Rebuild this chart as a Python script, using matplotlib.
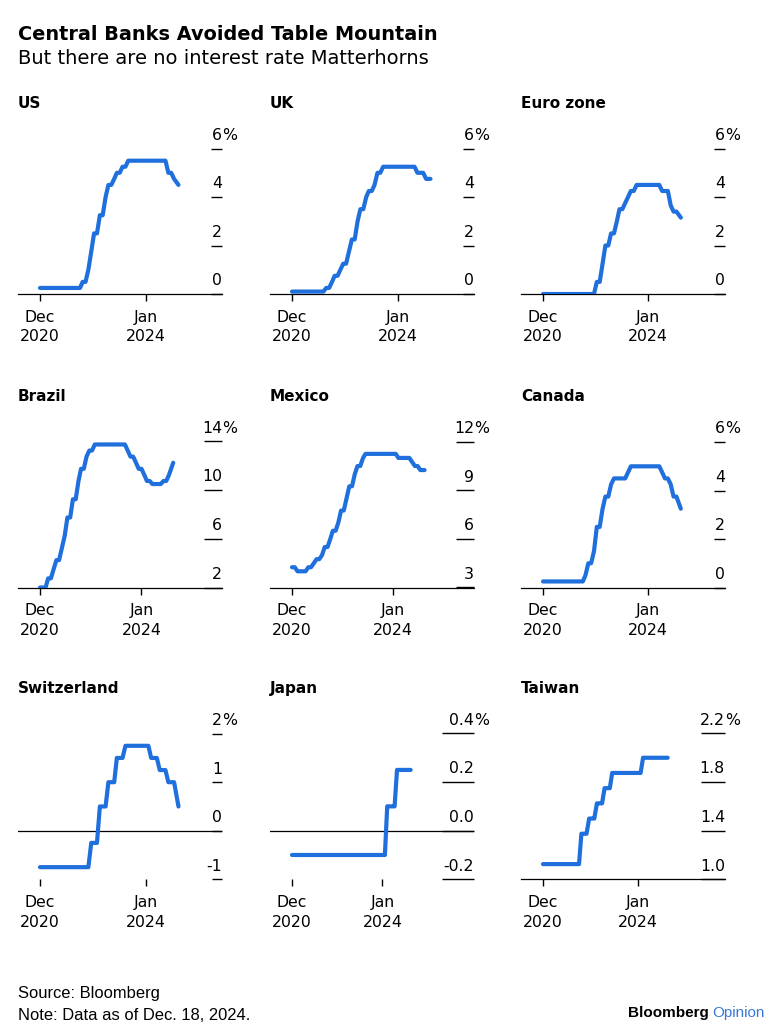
import pandas as pd
import matplotlib
matplotlib.use('Agg')
import matplotlib.pyplot as plt

plt.rcParams['font.family'] = 'DejaVu Sans'

# monthly policy rates, Dec 2020 .. Dec 2024 (last point = Dec. 18, 2024)
dates = list(pd.date_range('2020-12-01', '2024-12-01', freq='MS'))
dates[-1] = pd.Timestamp('2024-12-18')

us = [0.25,
      0.25, 0.25, 0.25, 0.25, 0.25, 0.25, 0.25, 0.25, 0.25, 0.25, 0.25, 0.25,
      0.25, 0.25, 0.5, 0.5, 1.0, 1.75, 2.5, 2.5, 3.25, 3.25, 4.0, 4.5,
      4.5, 4.75, 5.0, 5.0, 5.25, 5.25, 5.5, 5.5, 5.5, 5.5, 5.5, 5.5,
      5.5, 5.5, 5.5, 5.5, 5.5, 5.5, 5.5, 5.5, 5.0, 5.0, 4.75, 4.5]
uk = [0.1,
      0.1, 0.1, 0.1, 0.1, 0.1, 0.1, 0.1, 0.1, 0.1, 0.1, 0.1, 0.25,
      0.25, 0.5, 0.75, 0.75, 1.0, 1.25, 1.25, 1.75, 2.25, 2.25, 3.0, 3.5,
      3.5, 4.0, 4.25, 4.25, 4.5, 5.0, 5.0, 5.25, 5.25, 5.25, 5.25, 5.25,
      5.25, 5.25, 5.25, 5.25, 5.25, 5.25, 5.25, 5.0, 5.0, 5.0, 4.75, 4.75]
euro = [0.0,
        0.0, 0.0, 0.0, 0.0, 0.0, 0.0, 0.0, 0.0, 0.0, 0.0, 0.0, 0.0,
        0.0, 0.0, 0.0, 0.0, 0.0, 0.0, 0.5, 0.5, 1.25, 2.0, 2.0, 2.5,
        2.5, 3.0, 3.5, 3.5, 3.75, 4.0, 4.25, 4.25, 4.5, 4.5, 4.5, 4.5,
        4.5, 4.5, 4.5, 4.5, 4.5, 4.25, 4.25, 4.25, 3.65, 3.4, 3.4, 3.15]
brazil = [2.0,
          2.0, 2.0, 2.75, 2.75, 3.5, 4.25, 4.25, 5.25, 6.25, 7.75, 7.75, 9.25,
          9.25, 10.75, 11.75, 11.75, 12.75, 13.25, 13.25, 13.75, 13.75, 13.75, 13.75, 13.75,
          13.75, 13.75, 13.75, 13.75, 13.75, 13.75, 13.75, 13.25, 12.75, 12.75, 12.25, 11.75,
          11.75, 11.25, 10.75, 10.75, 10.5, 10.5, 10.5, 10.5, 10.75, 10.75, 11.25, 12.25]
mexico = [4.25,
          4.25, 4.0, 4.0, 4.0, 4.0, 4.25, 4.25, 4.5, 4.75, 4.75, 5.0, 5.5,
          5.5, 6.0, 6.5, 6.5, 7.0, 7.75, 7.75, 8.5, 9.25, 9.25, 10.0, 10.5,
          10.5, 11.0, 11.25, 11.25, 11.25, 11.25, 11.25, 11.25, 11.25, 11.25, 11.25, 11.25,
          11.25, 11.25, 11.0, 11.0, 11.0, 11.0, 11.0, 10.75, 10.5, 10.5, 10.25, 10.25]
canada = [0.25,
          0.25, 0.25, 0.25, 0.25, 0.25, 0.25, 0.25, 0.25, 0.25, 0.25, 0.25, 0.25,
          0.25, 0.25, 0.5, 1.0, 1.0, 1.5, 2.5, 2.5, 3.25, 3.75, 3.75, 4.25,
          4.5, 4.5, 4.5, 4.5, 4.5, 4.75, 5.0, 5.0, 5.0, 5.0, 5.0, 5.0,
          5.0, 5.0, 5.0, 5.0, 5.0, 4.75, 4.5, 4.5, 4.25, 3.75, 3.75, 3.25]
switzerland = [-0.75,
               -0.75, -0.75, -0.75, -0.75, -0.75, -0.75, -0.75, -0.75, -0.75, -0.75, -0.75, -0.75,
               -0.75, -0.75, -0.75, -0.75, -0.75, -0.25, -0.25, -0.25, 0.5, 0.5, 0.5, 1.0,
               1.0, 1.0, 1.5, 1.5, 1.5, 1.75, 1.75, 1.75, 1.75, 1.75, 1.75, 1.75,
               1.75, 1.75, 1.5, 1.5, 1.5, 1.25, 1.25, 1.25, 1.0, 1.0, 1.0, 0.5]
japan = [-0.1,
         -0.1, -0.1, -0.1, -0.1, -0.1, -0.1, -0.1, -0.1, -0.1, -0.1, -0.1, -0.1,
         -0.1, -0.1, -0.1, -0.1, -0.1, -0.1, -0.1, -0.1, -0.1, -0.1, -0.1, -0.1,
         -0.1, -0.1, -0.1, -0.1, -0.1, -0.1, -0.1, -0.1, -0.1, -0.1, -0.1, -0.1,
         -0.1, -0.1, 0.1, 0.1, 0.1, 0.1, 0.25, 0.25, 0.25, 0.25, 0.25, 0.25]
taiwan = [1.125,
          1.125, 1.125, 1.125, 1.125, 1.125, 1.125, 1.125, 1.125, 1.125, 1.125, 1.125, 1.125,
          1.125, 1.125, 1.375, 1.375, 1.375, 1.5, 1.5, 1.5, 1.625, 1.625, 1.625, 1.75,
          1.75, 1.75, 1.875, 1.875, 1.875, 1.875, 1.875, 1.875, 1.875, 1.875, 1.875, 1.875,
          1.875, 1.875, 2.0, 2.0, 2.0, 2.0, 2.0, 2.0, 2.0, 2.0, 2.0, 2.0]

names = ['US', 'UK', 'Euro zone', 'Brazil', 'Mexico', 'Canada',
         'Switzerland', 'Japan', 'Taiwan']
series = [us, uk, euro, brazil, mexico, canada, switzerland, japan, taiwan]
yticks = [[0, 2, 4, 6], [0, 2, 4, 6], [0, 2, 4, 6],
          [2, 6, 10, 14], [3, 6, 9, 12], [0, 2, 4, 6],
          [-1, 0, 1, 2], [-0.2, 0.0, 0.2, 0.4], [1.0, 1.4, 1.8, 2.2]]
ylabels = [['0', '2', '4', '6'], ['0', '2', '4', '6'], ['0', '2', '4', '6'],
           ['2', '6', '10', '14'], ['3', '6', '9', '12'], ['0', '2', '4', '6'],
           ['-1', '0', '1', '2'], ['-0.2', '0.0', '0.2', '0.4'], ['1.0', '1.4', '1.8', '2.2']]
xtick_dates = [pd.Timestamp('2020-12-01'), pd.Timestamp('2024-01-01')]
xtick_labels = ['Dec\n2020', 'Jan\n2024']

# layout (pixels) -------------------------------------------------------
W, H = 782, 1030
BLUE = '#1f6fdc'
col_left = [18, 270, 521]
row_bottom = [294, 587.5, 879.3]
ax_w, ax_h = 204, 167
ylims = [(0, 6.89), (0, 6.89), (0, 6.89),
         (2, 15.72), (3, 13.31), (0, 6.89),
         (-1, 2.44), (-0.2, 0.487), (1.0, 2.374)]
tick_gap = [105.5, 105.5, 105.0, 101.5, 101.0, 105.0, 105.5, 90.4, 95.0]
tick_len = [8, 8, 8, 13, 13, 8, 7, 23, 17]

fig = plt.figure(figsize=(W / 100, H / 100), dpi=100)

fig.text(18 / W, 1 - 35 / H, 'Central Banks Avoided Table Mountain',
         fontsize=13.9, fontweight='bold', va='center')
fig.text(18 / W, 1 - 59 / H, 'But there are no interest rate Matterhorns',
         fontsize=14, va='center')

for i, name in enumerate(names):
    r, c = divmod(i, 3)
    left = col_left[c]
    bottom = row_bottom[r]
    ax = fig.add_axes([left / W, 1 - bottom / H, ax_w / W, ax_h / H])
    ax.plot(dates, series[i], color=BLUE, lw=3, solid_capstyle='round',
            solid_joinstyle='round', zorder=3)

    ppd = tick_gap[i] / 1126.0
    x0 = xtick_dates[0]
    ax.set_xlim(x0 - pd.Timedelta(days=22 / ppd),
                x0 + pd.Timedelta(days=(ax_w - 22) / ppd))
    ax.set_ylim(*ylims[i])

    for s in ['top', 'left', 'right']:
        ax.spines[s].set_visible(False)
    ax.spines['bottom'].set_linewidth(0.9)
    if name in ('Switzerland', 'Japan'):
        ax.spines['bottom'].set_visible(False)
        ax.axhline(0, color='black', lw=0.9, zorder=2)

    ax.set_xticks(xtick_dates)
    ax.set_xticklabels(xtick_labels, fontsize=11.3, linespacing=1.37)
    ax.tick_params(axis='x', length=5, width=1, pad=6.5)

    ax.yaxis.tick_right()
    ax.set_yticks(yticks[i])
    ax.tick_params(axis='y', direction='in', length=tick_len[i], width=1,
                   labelright=False)
    tr = ax.get_yaxis_transform()
    for k, (v, lab) in enumerate(zip(yticks[i], ylabels[i])):
        ax.annotate(lab, xy=(1, v), xycoords=tr, xytext=(0, 9.5),
                    textcoords='offset points', ha='right', va='center',
                    fontsize=11.3)
        if k == len(yticks[i]) - 1:
            ax.annotate('%', xy=(1, v), xycoords=tr, xytext=(0, 9.5),
                        textcoords='offset points', ha='left', va='center',
                        fontsize=11.3)

    fig.text(left / W, 1 - (bottom - 191) / H, name, fontsize=11,
             fontweight='bold', va='center')

foot = ['Liberation Sans', 'DejaVu Sans']
fig.text(18 / W, 1 - 993.5 / H, 'Source: Bloomberg', fontsize=11.9,
         family=foot, va='center')
fig.text(18 / W, 1 - 1016 / H, 'Note: Data as of Dec. 18, 2024.', fontsize=11.9,
         family=foot, va='center')
op = fig.text(765 / W, 1 - 1013.5 / H, 'Opinion', fontsize=11, family=foot,
              color='#3a78d8', ha='right', va='center')
plt.annotate('Bloomberg ', xy=(0, 0.5), xycoords=op, ha='right', va='center',
             fontsize=11, family=foot, fontweight='bold', color='black')

plt.savefig('out.png', dpi=100)
